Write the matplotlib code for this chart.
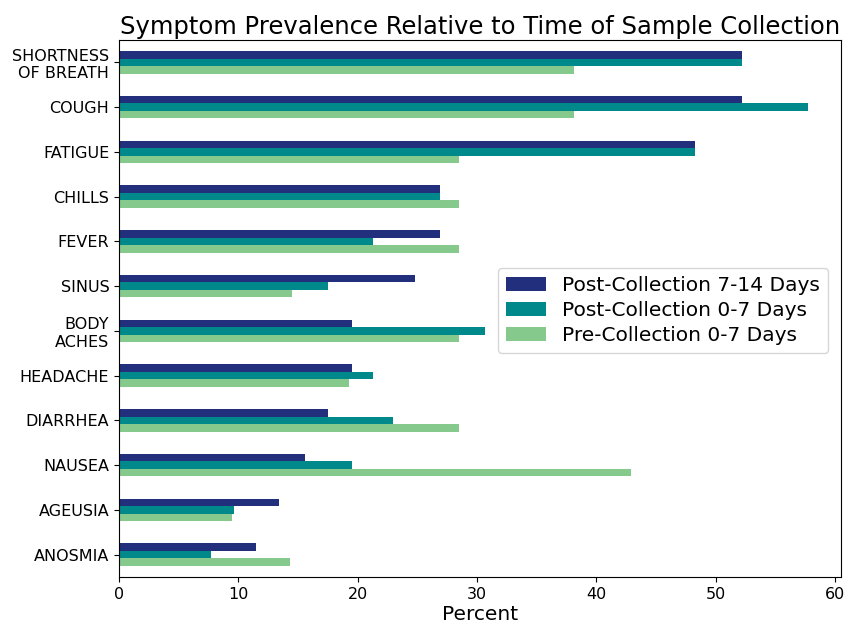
import matplotlib
matplotlib.use("Agg")
import matplotlib.pyplot as plt
import numpy as np

categories = ["SHORTNESS\nOF BREATH", "COUGH", "FATIGUE", "CHILLS", "FEVER", "SINUS",
              "BODY\nACHES", "HEADACHE", "DIARRHEA", "NAUSEA", "AGEUSIA", "ANOSMIA"]
post_7_14 = [52.2, 52.2, 48.3, 26.9, 26.9, 24.8, 19.5, 19.5, 17.5, 15.6, 13.4, 11.5]
post_0_7 = [52.2, 57.7, 48.3, 26.9, 21.3, 17.5, 30.7, 21.3, 23.0, 19.5, 9.6, 7.7]
pre_0_7 = [38.1, 38.1, 28.5, 28.5, 28.5, 14.5, 28.5, 19.3, 28.5, 42.9, 9.5, 14.3]
series_labels = ["Post-Collection 7-14 Days", "Post-Collection 0-7 Days", "Pre-Collection 0-7 Days"]
colors = ["#212f7c", "#00898a", "#86c98c"]

fig = plt.figure(figsize=(8.46, 6.36), dpi=100)
ax = fig.add_axes([119/846, 1 - 577/636, (841-119)/846, (577-40)/636])

y = np.arange(len(categories))
h = 1/6
for i, (vals, lab, c) in enumerate(zip([post_7_14, post_0_7, pre_0_7], series_labels, colors)):
    ax.barh(y + (i - 1) * h, vals, height=h, color=c, label=lab)

ax.set_ylim(len(categories) - 0.5, -0.5)
ax.set_xlim(0, 60.5)
ax.set_yticks(y)
ax.set_yticklabels(categories, fontsize=11.5)
ax.set_xticks([0, 10, 20, 30, 40, 50, 60])
ax.tick_params(axis='x', labelsize=11.5)
ax.set_xlabel("Percent", fontsize=14.5, labelpad=2)
ax.set_title("Symptom Prevalence Relative to Time of Sample Collection", fontsize=17.5, pad=4)
ax.legend(loc="upper left", bbox_to_anchor=(0.525, 0.575), fontsize=14.5, handlelength=2.0,
          borderaxespad=0, labelspacing=0.3)

fig.savefig("out.png", dpi=100)
